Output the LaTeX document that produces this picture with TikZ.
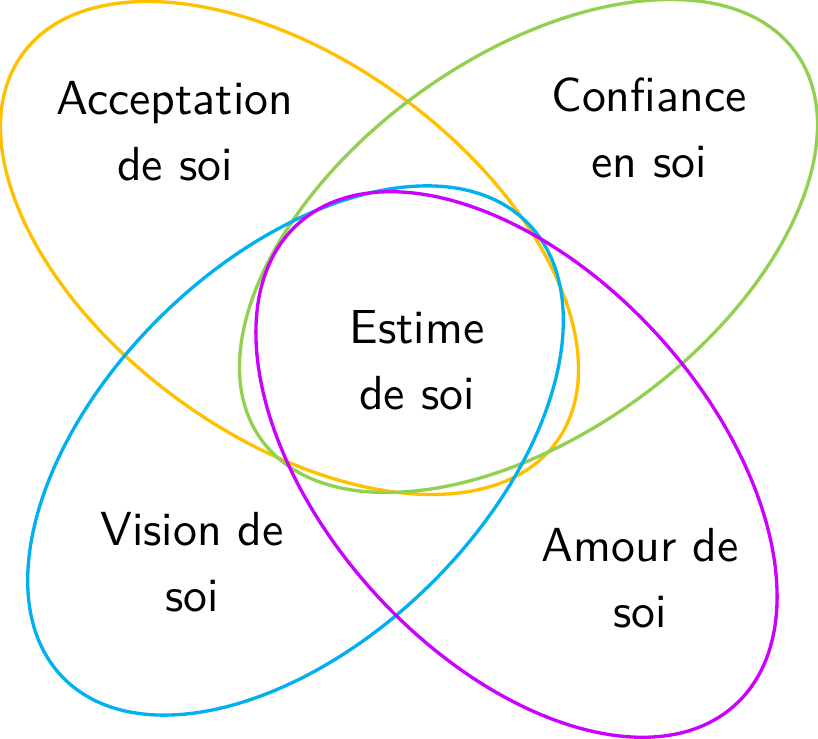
\documentclass[tikz,border=0pt]{standalone}
\usepackage{fontspec}
\setsansfont{lmsans10-regular.otf}
\definecolor{oro}{HTML}{FFC000}
\definecolor{verde}{HTML}{92D050}
\definecolor{celeste}{HTML}{00B0F0}
\definecolor{violeta}{HTML}{CC00FF}
\begin{document}
\begin{tikzpicture}[x=0.02cm, y=0.02cm,
    borde/.style={line width=1.9pt},
    texto/.style={align=center, font=\fontsize{27.2}{37.4}\selectfont\sffamily}]
    \useasboundingbox (0,0) rectangle (818,739);
    % Elipses
    \draw[borde, oro, rotate around={-36:(289.5,491)}] (289.5,491) ellipse [x radius=330, y radius=188];
    \draw[borde, verde, rotate around={36:(528.5,493)}] (528.5,493) ellipse [x radius=330, y radius=188];
    \draw[borde, celeste, rotate around={44.3:(295.5,288.5)}] (295.5,288.5) ellipse [x radius=325, y radius=190];
    \draw[borde, violeta, rotate around={-47.7:(516.5,274.5)}] (516.5,274.5) ellipse [x radius=325, y radius=191.5];
    % Textos
    \node[texto] (acept) at (175,608) {Acceptation\\de soi};
    \node[texto] (conf) at (649,611) {Confiance\\en soi};
    \node[texto] (estime) at (417,379) {Estime\\de soi};
    \node[texto] (vision) at (192,176.5) {Vision de\\soi};
    \node[texto] (amour) at (640,161) {Amour de\\soi};
\end{tikzpicture}
\end{document}
